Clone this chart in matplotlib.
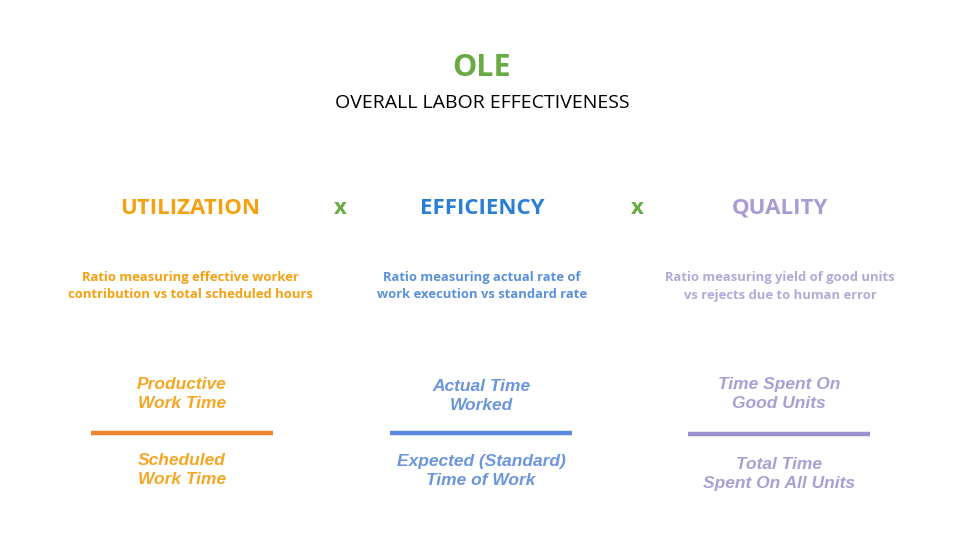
import matplotlib.pyplot as plt

# content
title = "OLE"
subtitle = "OVERALL LABOR EFFECTIVENESS"
headers = ["UTILIZATION", "EFFICIENCY", "QUALITY"]
descriptions = [
    "Ratio measuring effective worker\ncontribution vs total scheduled hours",
    "Ratio measuring actual rate of\nwork execution vs standard rate",
    "Ratio measuring yield of good units\nvs rejects due to human error",
]
numerators = ["Productive\nWork Time", "Actual Time\nWorked", "Time Spent On\nGood Units"]
denominators = ["Scheduled\nWork Time", "Expected (Standard)\nTime of Work", "Total Time\nSpent On All Units"]

head_colors = ["#f5a00f", "#2a7fd4", "#a89ad2"]
desc_colors = ["#f5a00f", "#5a90dc", "#b3a9d8"]
frac_colors = ["#f5a623", "#6b95dc", "#a99fd4"]
line_colors = ["#f0832e", "#5a8ae0", "#9d90d0"]
green = "#6aaa44"

W, H = 960, 540
fig = plt.figure(figsize=(9.6, 5.4), dpi=100)
ax = fig.add_axes([0, 0, 1, 1])
ax.set_xlim(0, W)
ax.set_ylim(H, 0)
ax.axis("off")

ax.text(482, 68, title, color=green, fontsize=22, fontweight="bold",
        family="Open Sans", ha="center", va="center")
ax.text(482, 103, subtitle, color="black", fontsize=14,
        family="Open Sans", ha="center", va="center")

cx = [190, 482, 780]
fx = [182, 481, 779]
num_y = [394, 396, 394]
den_y = [470, 471, 474]
line_y = [433, 433, 434]
for i in range(3):
    ax.text(cx[i], 208, headers[i], color=head_colors[i], fontsize=16,
            fontweight="bold", family="Open Sans", ha="center", va="center")
    ax.text(cx[i], 286, descriptions[i], color=desc_colors[i], fontsize=9.4,
            fontweight="bold", family="Open Sans", ha="center", va="center",
            linespacing=1.5)
    ax.text(fx[i], num_y[i], numerators[i], color=frac_colors[i], fontsize=12.5,
            fontweight="bold", style="italic", family="Liberation Sans",
            ha="center", va="center", linespacing=1.4)
    ax.text(fx[i], den_y[i], denominators[i], color=frac_colors[i], fontsize=12.5,
            fontweight="bold", style="italic", family="Liberation Sans",
            ha="center", va="center", linespacing=1.4)
    ax.plot([fx[i] - 91, fx[i] + 91], [line_y[i], line_y[i]],
            color=line_colors[i], linewidth=3.2, solid_capstyle="butt")

for x in [340, 637]:
    ax.text(x, 208, "x", color=green, fontsize=16, fontweight="bold",
            family="Open Sans", ha="center", va="center")

fig.savefig("out.png", dpi=100)
